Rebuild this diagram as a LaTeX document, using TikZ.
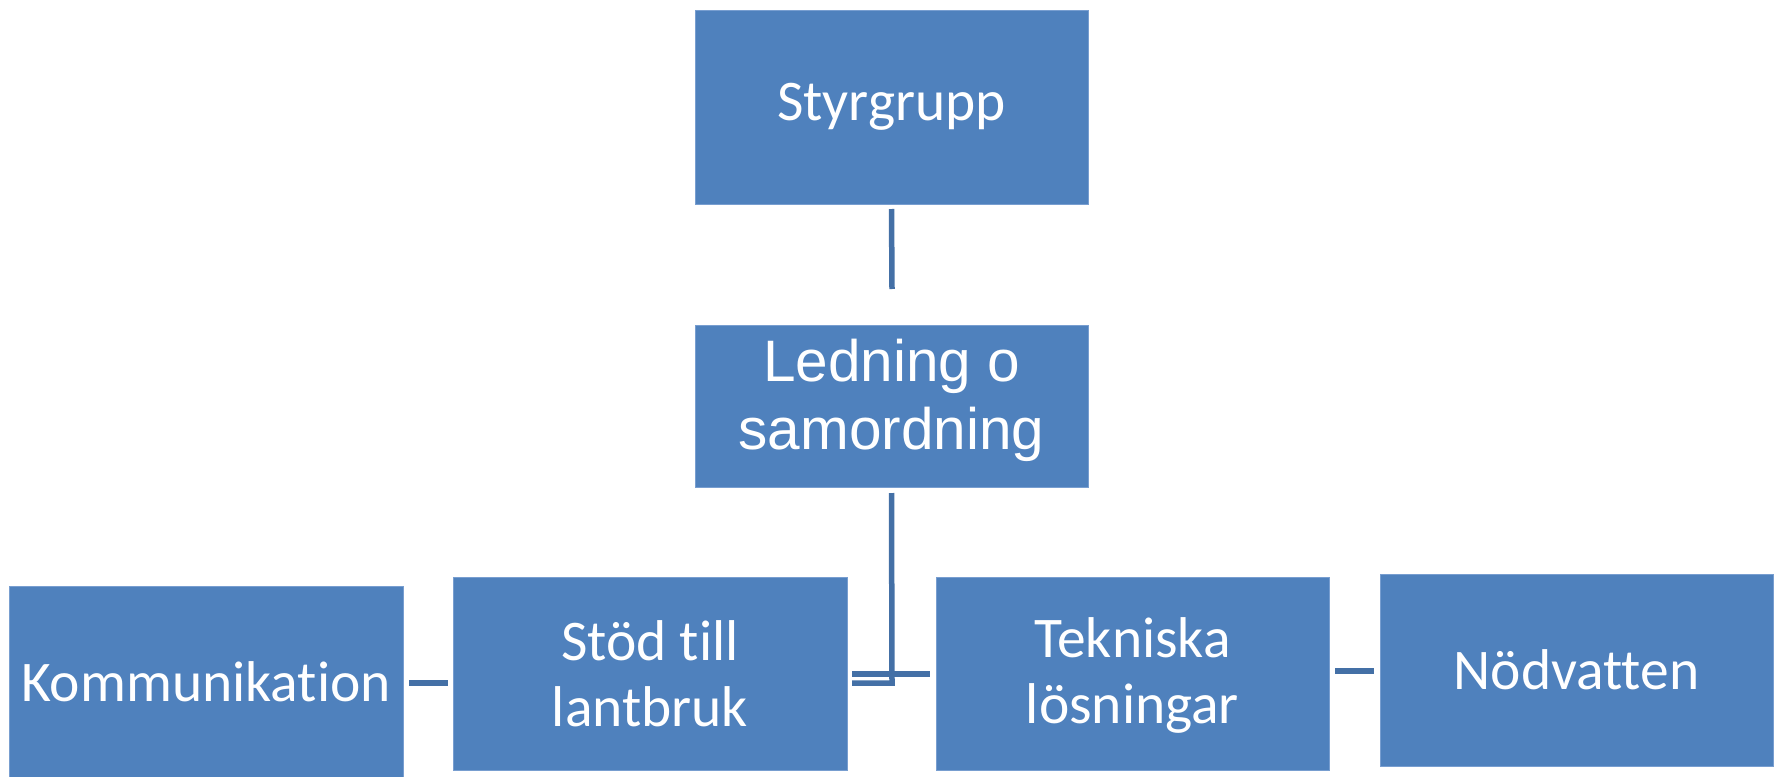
\documentclass[tikz,border=0pt]{standalone}
\usepackage{fontspec}
\setmainfont[Ligatures={NoCommon}]{Carlito}
\newfontfamily\arialf{Liberation Sans}
\definecolor{boxblue}{RGB}{79,129,189}
\definecolor{boxedge}{RGB}{120,158,208}
\definecolor{connblue}{RGB}{68,112,166}
\begin{document}
\begin{tikzpicture}[x=1bp,y=-1bp,
  box/.style={rectangle, fill=boxblue, draw=boxedge, line width=0.8bp, inner sep=0pt, text=white, align=center},
  calib/.style={font=\fontsize{57.5bp}{66bp}\selectfont},
  conn/.style={draw=connblue, line width=5.5bp}]
\useasboundingbox (0,0) rectangle (1775,777);
% boxes
\node[box, calib, minimum width=393bp, minimum height=194bp] (S) at (891.5,107) {Styrgrupp};
\node[box, minimum width=393bp, minimum height=162bp] (L) at (891.5,406) {};
\node[text=white, align=center, inner sep=0pt, font=\arialf\fontsize{58.5bp}{68bp}\selectfont] (Lt) at (891.5,400) {Ledning o\\samordning};
\node[box, calib, minimum width=394bp, minimum height=191bp] (K) at (206,681.5) {Kommunikation};
\node[box, calib, minimum width=394bp, minimum height=193bp] (St) at (650,673.5) {Stöd till\\lantbruk};
\node[box, minimum width=393bp, minimum height=193bp] (T) at (1132.5,673.5) {};
\node[text=white, align=center, inner sep=0pt, calib] (Tt) at (1132.5,675) {Tekniska\\lösningar};
\node[box, calib, minimum width=393bp, minimum height=192bp] (N) at (1576.5,670) {Nödvatten};
% connector coordinates
\coordinate (s1) at (892,209);
\coordinate (s2) at (892,289);
\coordinate (l1) at (892,493);
\coordinate (j) at (892,683);
\coordinate (ja) at (852,674);
\coordinate (jb) at (930,674);
\coordinate (jc) at (852,683);
% connectors
\draw[conn] (S.south |- s1) -- (s2);
\draw[conn] (L.south |- l1) -- (j) -- (jc);
\draw[conn, line width=6.5bp] (ja) -- (jb);
\draw[conn, shorten <=6bp, shorten >=5bp] (K.east |- 0,683) -- (St.west |- 0,683);
\draw[conn, shorten <=6bp, shorten >=6bp] (T.east |- 0,671) -- (N.west |- 0,671);
\end{tikzpicture}
\end{document}
